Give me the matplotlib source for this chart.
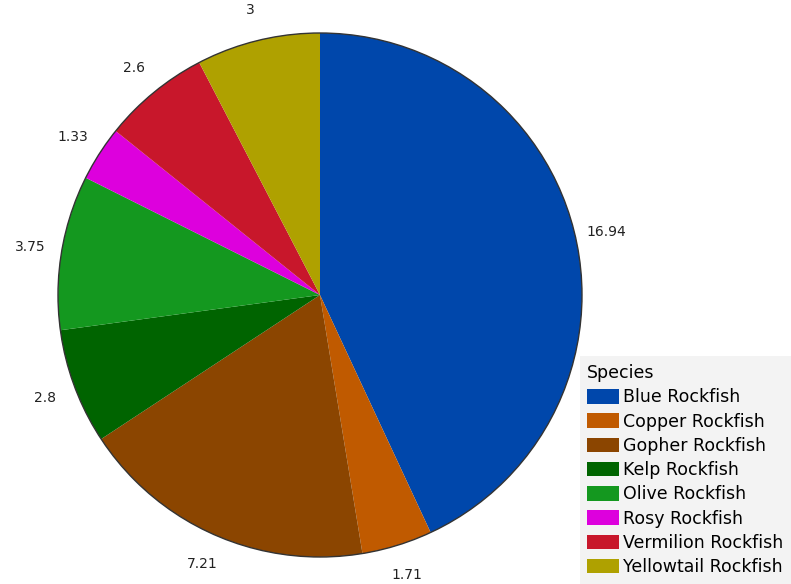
import matplotlib.pyplot as plt
from matplotlib.patches import Circle

species = ['Blue Rockfish', 'Copper Rockfish', 'Gopher Rockfish', 'Kelp Rockfish',
           'Olive Rockfish', 'Rosy Rockfish', 'Vermilion Rockfish', 'Yellowtail Rockfish']
values = [16.94, 1.71, 7.21, 2.8, 3.75, 1.33, 2.6, 3]
labels = ['16.94', '1.71', '7.21', '2.8', '3.75', '1.33', '2.6', '3']
colors = ['#0047AB', '#C05A00', '#8B4500', '#006400', '#14981F', '#DD00DD', '#C8172B', '#AFA100']

fig = plt.figure(figsize=(7.91, 5.84), dpi=100)
ax = fig.add_axes([0, 0, 1, 1])

cx, cy, r = 320, 584 - 295, 262
wedges, texts = ax.pie(values, labels=labels, colors=colors, startangle=90,
                       counterclock=False, center=(cx, cy), radius=r,
                       labeldistance=1.12, frame=True,
                       wedgeprops=dict(edgecolor='none', linewidth=0),
                       textprops=dict(fontsize=10, color='#222222'))
for t in texts:
    t.set_ha('center')
    t.set_va('center')

ax.set_xlim(0, 791)
ax.set_ylim(0, 584)
ax.set_aspect('equal')
ax.axis('off')
ax.add_patch(Circle((cx, cy), r, fill=False, edgecolor='#333333', linewidth=1))

leg = ax.legend(wedges, species, title='Species', loc='lower right',
                bbox_to_anchor=(1.0, 0.0), bbox_transform=fig.transFigure,
                borderaxespad=0, fontsize=12.5, title_fontsize=12.5,
                frameon=True, fancybox=False, facecolor='#f3f3f3', edgecolor='none',
                framealpha=1, handlelength=1.85, handleheight=0.9,
                handletextpad=0.2, labelspacing=0.36, alignment='left',
                borderpad=0.45)

plt.savefig('out.png', dpi=100)
